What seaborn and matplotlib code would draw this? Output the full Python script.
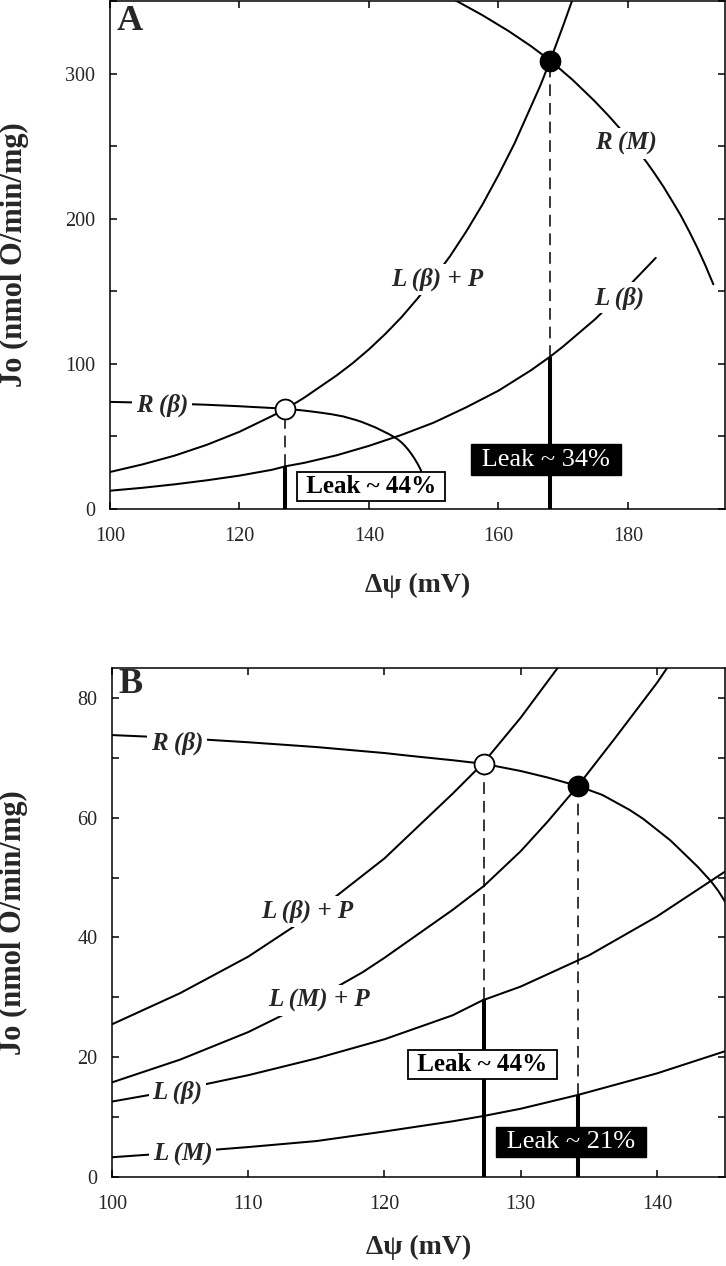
import matplotlib
matplotlib.use("Agg")
import matplotlib.pyplot as plt
import seaborn as sns
from matplotlib.ticker import MultipleLocator

sns.set_style("ticks")
plt.rcParams['font.family'] = ['Liberation Serif', 'DejaVu Serif']

# --- curves (x = membrane potential, mV; y = Jo) ---
# respiration, beta cells
rb_x = [100, 105, 110, 115, 120, 122, 125, 127.3, 130, 132, 134.2, 136, 138, 139, 140, 141, 142, 143, 144,
        144.5, 145, 145.5, 146, 146.5, 147, 147.5, 148, 148.6]
rb_y = [73.8, 73.3, 72.6, 71.8, 70.8, 70.3, 69.6, 69.0, 67.8, 66.7, 65.3, 63.8, 61.3, 59.8, 58.0, 56.2, 54.0, 51.8, 49.3,
        47.8, 46.0, 43.8, 41.2, 38.3, 35.0, 31.3, 27.0, 18.0]

# respiration, muscle (panel A only)
rm_x = [150, 153.8, 157.5, 161.5, 165, 168, 171.5, 174.8, 177, 179.4, 181, 182.8, 184, 185.5, 187, 188.2, 189.5, 190.8, 192, 193.2]
rm_y = [357.8, 349.4, 340.3, 329.5, 319, 309, 295.5, 281.3, 271, 259, 250, 239.5, 232, 222, 211, 202, 191, 179.3, 167.5, 154.8]

# leak + phosphorylation, beta cells
lbp_x = [100, 105, 110, 115, 120, 125, 127.2, 130, 135, 137.5, 140, 142.5, 145, 147.5, 150, 152.5, 155, 157.5,
         160, 162.5, 165, 166.5, 168, 170, 172]
lbp_y = [25.5, 30.7, 36.8, 44.3, 53.2, 64.0, 69.0, 76.7, 92.0, 100.5, 110, 120.5, 132, 145, 159, 174, 191, 209.5,
         230, 252, 277, 292, 309, 333, 358]

# leak, beta cells
lb_x = [100, 105, 110, 115, 120, 125, 127.2, 130, 135, 140, 145, 150, 155, 160, 165, 168, 170, 175, 180, 184.3]
lb_y = [12.6, 14.6, 17.0, 19.8, 23.0, 27.0, 29.5, 31.8, 37.0, 43.5, 51.0, 59.5, 70.0, 81.5, 95.5, 105, 112, 131, 153, 173]

# leak + phosphorylation, muscle (panel B)
lmp_x = [100, 105, 110, 115, 118.4, 120, 125, 127.3, 130, 132, 134.2, 137, 140, 141.5]
lmp_y = [15.8, 19.6, 24.2, 29.8, 34.2, 36.6, 44.6, 48.6, 54.4, 59.4, 65.3, 73.5, 82.5, 87.5]

# leak, muscle (panel B)
lm_x = [100, 105, 110, 115, 120, 125, 127.3, 130, 134.2, 140, 145]
lm_y = [3.3, 4.1, 5.0, 6.0, 7.6, 9.3, 10.2, 11.4, 13.7, 17.3, 21.0]

# operating points: (x, Jo at the point, leak Jo at same x)
a_open = (127.1, 68.8, 29.3)
a_fill = (168.0, 309.0, 105.0)
b_open = (127.3, 69.0, 29.8)
b_fill = (134.2, 65.3, 13.7)

fig = plt.figure(figsize=(7.26, 12.66), dpi=100)
axA = fig.add_axes([110 / 726, 1 - 509 / 1266, 615 / 726, 508 / 1266])
axB = fig.add_axes([112 / 726, 1 - 1177 / 1266, 613 / 726, 509 / 1266])

LW = 1.45


def curve(ax, x, y):
    sns.lineplot(x=x, y=y, ax=ax, color='black', linewidth=LW, estimator=None, sort=False)


def curve_label(ax, x, y, s):
    ax.text(x, y, s, fontsize=18, fontweight='bold', fontstyle='italic',
            ha='center', va='center', zorder=4,
            bbox=dict(boxstyle='square,pad=0.15', fc='white', ec='none'))


def op_point(ax, pt, filled):
    x, y, base = pt
    ax.plot([x, x], [base, y], color='black', lw=1.1, ls=(0, (7.7, 4.5)), zorder=2)
    ax.plot([x, x], [0, base], color='black', lw=2.9, solid_capstyle='butt', zorder=2)
    sns.scatterplot(x=[x], y=[y], ax=ax, s=205, zorder=6,
                    color='black' if filled else 'white', edgecolor='black', linewidth=1.3)


def leak_box(ax, x, y, s, dark):
    if dark:
        ax.text(x, y, ' ' + s + ' ', fontsize=19, color='white', ha='center', va='center', zorder=5,
                bbox=dict(boxstyle='square,pad=0.16', fc='black', ec='black'))
    else:
        ax.text(x, y, ' ' + s + ' ', fontsize=18, fontweight='bold', color='black',
                ha='center', va='center', zorder=5,
                bbox=dict(boxstyle='square,pad=0.12', fc='white', ec='black', lw=1.3))


def style(ax, xlim, ylim, xmaj, ymaj, ymin, letter, ltop, xl_y, yl_x):
    ax.set_xlim(*xlim)
    ax.set_ylim(*ylim)
    ax.xaxis.set_major_locator(MultipleLocator(xmaj))
    ax.yaxis.set_major_locator(MultipleLocator(ymaj))
    ax.yaxis.set_minor_locator(MultipleLocator(ymin))
    ax.tick_params(which='both', direction='in', top=True, right=True, length=5, width=1.1,
                   labelsize=14.5, color='black')
    ax.tick_params(axis='x', which='both', pad=13)
    ax.tick_params(axis='y', which='both', pad=10.5)
    for sp in ax.spines.values():
        sp.set_linewidth(1.1)
        sp.set_color('black')
        sp.set_visible(True)
    ax.set_xlabel('Δψ (mV)', fontsize=20, fontweight='bold')
    ax.set_ylabel('Jo (nmol O/min/mg)', fontsize=22, fontweight='bold')
    ax.xaxis.set_label_coords(0.5, xl_y)
    ax.yaxis.set_label_coords(yl_x, 0.5)
    ax.text(0.011, ltop, letter, transform=ax.transAxes, fontsize=26, fontweight='bold',
            ha='left', va='top')


# ---- panel A ----
curve(axA, rb_x, rb_y)
curve(axA, rm_x, rm_y)
curve(axA, lbp_x, lbp_y)
curve(axA, lb_x, lb_y)
curve_label(axA, 108.0, 71.7, 'R (β)')
curve_label(axA, 179.7, 252, 'R (M)')
curve_label(axA, 150.5, 158, 'L (β) + P')
curve_label(axA, 178.6, 145.5, 'L (β)')
op_point(axA, a_open, False)
op_point(axA, a_fill, True)
leak_box(axA, 140.3, 15.2, 'Leak ~ 44%', False)
leak_box(axA, 167.3, 34.1, 'Leak ~ 34%', True)
style(axA, (100, 195), (0, 350), 20, 100, 50, 'A', 0.992, -0.125, -0.132)

# ---- panel B ----
curve(axB, rb_x, rb_y)
curve(axB, lbp_x, lbp_y)
curve(axB, lmp_x, lmp_y)
curve(axB, lb_x, lb_y)
curve(axB, lm_x, lm_y)
curve_label(axB, 104.8, 72.5, 'R (β)')
curve_label(axB, 114.3, 44.3, 'L (β) + P')
curve_label(axB, 115.2, 29.5, 'L (M) + P')
curve_label(axB, 104.8, 14.2, 'L (β)')
curve_label(axB, 105.2, 3.8, 'L (M)')
op_point(axB, b_open, False)
op_point(axB, b_fill, True)
leak_box(axB, 127.2, 18.8, 'Leak ~ 44%', False)
leak_box(axB, 133.7, 5.8, 'Leak ~ 21%', True)
style(axB, (100, 145), (0, 85), 10, 20, 10, 'B', 1.0, -0.114, -0.137)

fig.savefig('out.png', dpi=100)
